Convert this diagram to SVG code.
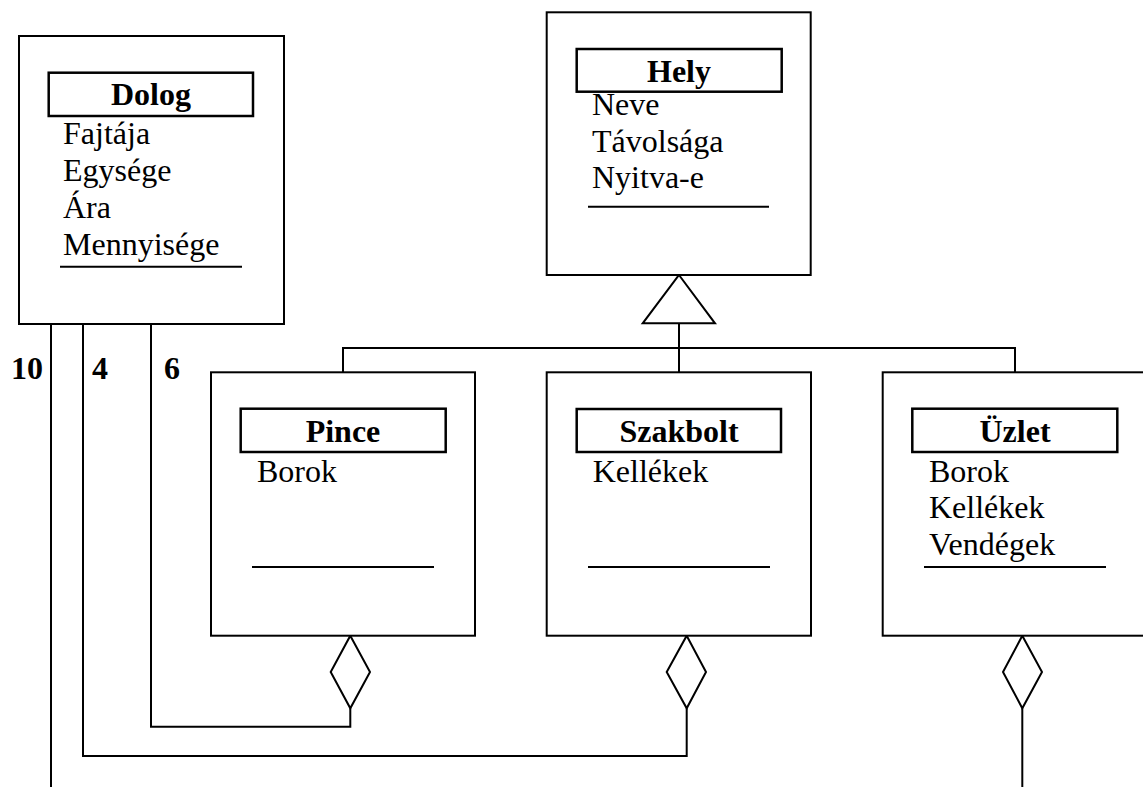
<svg xmlns="http://www.w3.org/2000/svg" width="1143" height="787" viewBox="0 0 1143 787">
<style>
.box{fill:#fff;stroke:#000;stroke-width:2}
.title{fill:none;stroke:#000;stroke-width:2.5}
.sep{stroke:#000;stroke-width:2}
.ln{fill:none;stroke:#000;stroke-width:2}
.head{fill:#fff;stroke:#000;stroke-width:2}
.tt{font-family:"Liberation Serif","Times New Roman",serif;font-size:32px;font-weight:bold;text-anchor:middle}
.at{font-family:"Liberation Serif","Times New Roman",serif;font-size:32px}
.lbl{font-family:"Liberation Serif","Times New Roman",serif;font-size:32px;font-weight:bold}
</style>
<rect width="1143" height="787" fill="#fff"/>
<g id="connectors">
<path class="ln" d="M679,323.3 V372.3 M343,372.3 V348 H1015 V372.3"/>
<polygon class="head" points="679,275 715,323.3 642.7,323.3"/>
<path class="ln" d="M51,324 V787"/>
<path class="ln" d="M83,324 V756 H686.7 V708.3"/>
<path class="ln" d="M151,324 V726.7 H350.3 V708.3"/>
<path class="ln" d="M1022.3,708.3 V787"/>
<polygon class="head" points="350.3,635.7 370,672 350.3,708.3 330.7,672"/>
<polygon class="head" points="686.7,635.7 706,672 686.7,708.3 666.7,672"/>
<polygon class="head" points="1022.3,635.7 1042,672 1022.3,708.3 1003,672"/>
<text class="lbl" x="11" y="379">10</text>
<text class="lbl" x="92" y="379">4</text>
<text class="lbl" x="164" y="379">6</text>
</g>
<g id="dolog">
<rect class="box" x="19" y="36" width="265" height="288"/>
<rect class="title" x="48.7" y="72.7" width="204.3" height="43.3"/>
<text class="tt" x="151" y="105">Dolog</text>
<text class="at" x="63" y="144">Fajtája</text>
<text class="at" x="63" y="181">Egysége</text>
<text class="at" x="63" y="218">Ára</text>
<text class="at" x="63" y="255">Mennyisége</text>
<line class="sep" x1="60" y1="266.7" x2="242" y2="266.7"/>
</g>
<g id="hely">
<rect class="box" x="546.7" y="12.3" width="264" height="262.7"/>
<rect class="title" x="576.7" y="49" width="205" height="42.7"/>
<text class="tt" x="679" y="82">Hely</text>
<text class="at" x="592" y="115">Neve</text>
<text class="at" x="592" y="151.7">Távolsága</text>
<text class="at" x="592" y="188.3">Nyitva-e</text>
<line class="sep" x1="588" y1="206.7" x2="769" y2="206.7"/>
</g>
<g id="pince">
<rect class="box" x="211" y="372.3" width="264" height="263.4"/>
<rect class="title" x="240.7" y="408.7" width="205" height="43.3"/>
<text class="tt" x="343" y="442">Pince</text>
<text class="at" x="257" y="481.7">Borok</text>
<line class="sep" x1="252" y1="567" x2="434" y2="567"/>
</g>
<g id="szakbolt">
<rect class="box" x="546.7" y="372.3" width="264.3" height="263.4"/>
<rect class="title" x="576.7" y="409" width="204.3" height="43"/>
<text class="tt" x="679" y="442">Szakbolt</text>
<text class="at" x="592.7" y="481.7">Kellékek</text>
<line class="sep" x1="588" y1="567" x2="770" y2="567"/>
</g>
<g id="uzlet">
<rect class="box" x="882.7" y="372.3" width="270" height="263.4"/>
<rect class="title" x="912.3" y="408.7" width="205" height="43.3"/>
<text class="tt" x="1015" y="442">Üzlet</text>
<text class="at" x="929" y="481.7">Borok</text>
<text class="at" x="929" y="518.3">Kellékek</text>
<text class="at" x="929" y="555">Vendégek</text>
<line class="sep" x1="924" y1="567" x2="1106" y2="567"/>
</g>
</svg>
